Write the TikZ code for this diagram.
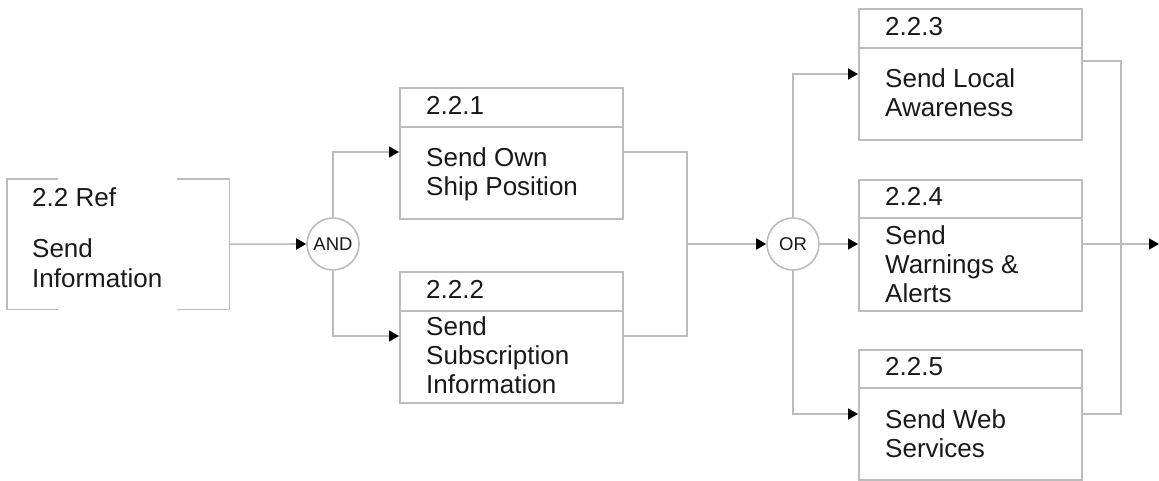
\documentclass[tikz,border=0pt]{standalone}
\usepackage{fontspec}
\setmainfont{Liberation Sans}
\usetikzlibrary{arrows.meta}
\definecolor{edge}{RGB}{188,188,188}
\definecolor{ink}{RGB}{25,25,25}
\begin{document}
\begin{tikzpicture}[x=1pt,y=-1pt,
  line/.style={draw=edge,line width=1.6pt},
  arr/.style={line,-{Triangle[length=10pt,width=11pt,color=black]}},
  box/.style={line,rectangle,anchor=north west,inner sep=0pt,minimum width=223pt},
  gate/.style={line,circle,minimum size=52pt,inner sep=0pt,text=ink,
    font=\fontsize{18.5}{20}\selectfont},
  % multi-line labels are placed by the baseline of their last line
  lbl/.style={anchor=base west,inner sep=0pt,text=ink,align=left,
    font=\fontsize{26}{29}\selectfont}
]
\useasboundingbox (0,0) rectangle (1159,480);

% reference block drawn as two brackets
\node[rectangle,inner sep=0pt,minimum width=222pt,minimum height=130pt,anchor=north west]
  (ref) at (7,179) {};
\draw[line] ([xshift=51pt]ref.north west) -- (ref.north west) -- (ref.south west)
  -- ([xshift=51pt]ref.south west);
\draw[line] ([xshift=-52pt]ref.north east) -- (ref.north east) -- (ref.south east)
  -- ([xshift=-52pt]ref.south east);
\node[lbl] (refnum) at (32,206) {2.2 Ref};
\node[lbl] (reftxt) at (32,287) {Send\\[1pt]Information};

% function blocks: number row above a divider, title below
\node[box,minimum height=131pt] (b221) at (399,87) {};
\draw[line] (399,127) -- (622,127);
\node[lbl] (n221) at (426,114) {2.2.1};
\node[lbl] (t221) at (426,195) {Send Own\\Ship Position};

\node[box,minimum height=131pt] (b222) at (399,271) {};
\draw[line] (399,311) -- (622,311);
\node[lbl] (n222) at (426,298) {2.2.2};
\node[lbl] (t222) at (426,393) {Send\\Subscription\\Information};

\node[box,minimum height=131pt] (b223) at (858,8) {};
\draw[line] (858,48) -- (1081,48);
\node[lbl] (n223) at (885,35) {2.2.3};
\node[lbl] (t223) at (885,116) {Send Local\\Awareness};

\node[box,minimum height=131pt] (b224) at (858,179) {};
\draw[line] (858,218) -- (1081,218);
\node[lbl] (n224) at (885,205) {2.2.4};
\node[lbl] (t224) at (885,302) {Send\\Warnings \&\\Alerts};

\node[box,minimum height=130pt] (b225) at (858,349) {};
\draw[line] (858,388) -- (1081,388);
\node[lbl] (n225) at (885,375) {2.2.5};
\node[lbl] (t225) at (885,457) {Send Web\\Services};

% logic gates
\node[gate] (and) at (333,244) {AND};
\node[gate] (or) at (793,244) {OR};

% connector end points on the block edges
\coordinate (in221) at (399,152);
\coordinate (in222) at (399,336);
\coordinate (out221) at (622,152);
\coordinate (out222) at (622,336);
\coordinate (joinA) at (687,244);
\coordinate (in223) at (858,74);
\coordinate (in225) at (858,414);
\coordinate (out223) at (1081,61);
\coordinate (out225) at (1081,414);
\coordinate (joinB) at (1121,244);
\coordinate (exit) at (1159,244);

% flow
\draw[arr] (ref.east) -- (and.west);
\draw[arr] (and.north) |- (in221);
\draw[arr] (and.south) |- (in222);
\draw[line] (out221) -| (joinA) |- (out222);
\draw[arr] (joinA) -- (or.west);
\draw[arr] (or.north) |- (in223);
\draw[arr] (or.east) -- (or.east -| b224.west);
\draw[arr] (or.south) |- (in225);
\draw[line] (out223) -| (joinB) |- (out225);
\draw[arr] (b224.east |- or.east) -- (exit);
\end{tikzpicture}
\end{document}
